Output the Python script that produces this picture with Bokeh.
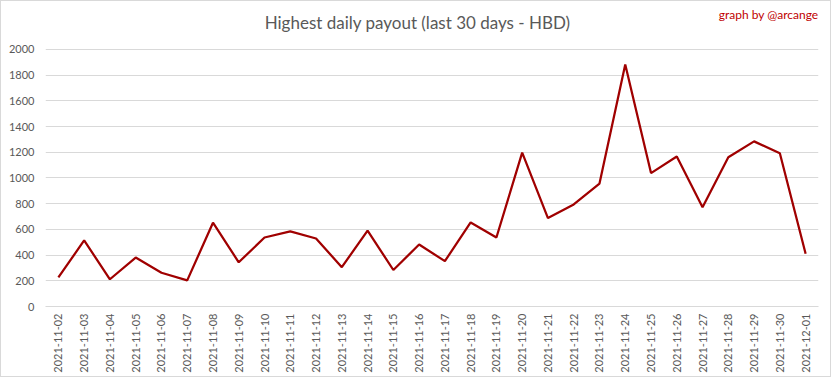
from math import pi
from bokeh.plotting import figure
from bokeh.models import Label, FactorRange, Range1d, FixedTicker
from bokeh.embed import file_html
from bokeh.resources import INLINE

dates = ["2021-11-02", "2021-11-03", "2021-11-04", "2021-11-05", "2021-11-06",
         "2021-11-07", "2021-11-08", "2021-11-09", "2021-11-10", "2021-11-11",
         "2021-11-12", "2021-11-13", "2021-11-14", "2021-11-15", "2021-11-16",
         "2021-11-17", "2021-11-18", "2021-11-19", "2021-11-20", "2021-11-21",
         "2021-11-22", "2021-11-23", "2021-11-24", "2021-11-25", "2021-11-26",
         "2021-11-27", "2021-11-28", "2021-11-29", "2021-11-30", "2021-12-01"]
payout = [226, 514, 212, 381, 263, 203, 652, 344, 537, 584,
          529, 306, 591, 284, 482, 353, 654, 537, 1197, 688,
          794, 957, 1884, 1038, 1167, 773, 1162, 1285, 1192, 410]
y_ticks = [0, 200, 400, 600, 800, 1000, 1200, 1400, 1600, 1800, 2000]

FONT = "Lato"
GREY = "#595959"

# frame extends to the top of the canvas so the title texts sit inside it;
# the axis ticks / gridlines still stop at 2000
p = figure(width=831, height=377, x_range=FactorRange(*dates, range_padding=0),
           y_range=Range1d(0, 2373.5), output_backend="svg", toolbar_location=None,
           min_border_left=44, min_border_right=14, min_border_top=0, min_border_bottom=72)
p.styles = {"border": "1px solid #D9D9D9"}
p.outline_line_color = None
p.background_fill_color = "white"
p.border_fill_color = "white"

p.line(dates, payout, line_color="#A00000", line_width=2.25)

p.xgrid.grid_line_color = None
p.ygrid.grid_line_color = "#D9D9D9"
p.ygrid.grid_line_width = 1

p.yaxis.ticker = FixedTicker(ticks=y_ticks)
for ax in (p.xaxis, p.yaxis):
    ax.axis_line_color = None
    ax.major_tick_line_color = None
    ax.minor_tick_line_color = None
    ax.major_tick_out = 0
    ax.major_tick_in = 0
    ax.major_label_text_font = FONT
    ax.major_label_text_font_size = "11px"
    ax.major_label_text_color = GREY
p.xaxis.axis_line_color = "#D9D9D9"
p.yaxis.major_label_standoff = 11
p.xaxis.major_label_standoff = 7
p.xaxis.major_label_orientation = pi / 2

p.add_layout(Label(x=14.44, y=2210,
                   text="Highest daily payout (last 30 days - HBD)",
                   text_font=FONT, text_font_size="17px", text_color=GREY,
                   text_align="center", text_baseline="middle"))
p.add_layout(Label(x=30.0, y=2272,
                   text="graph by @arcange",
                   text_font=FONT, text_font_size="12px", text_color="#C00000",
                   text_align="right", text_baseline="middle"))

open("out.html", "w").write(file_html(p, INLINE))
